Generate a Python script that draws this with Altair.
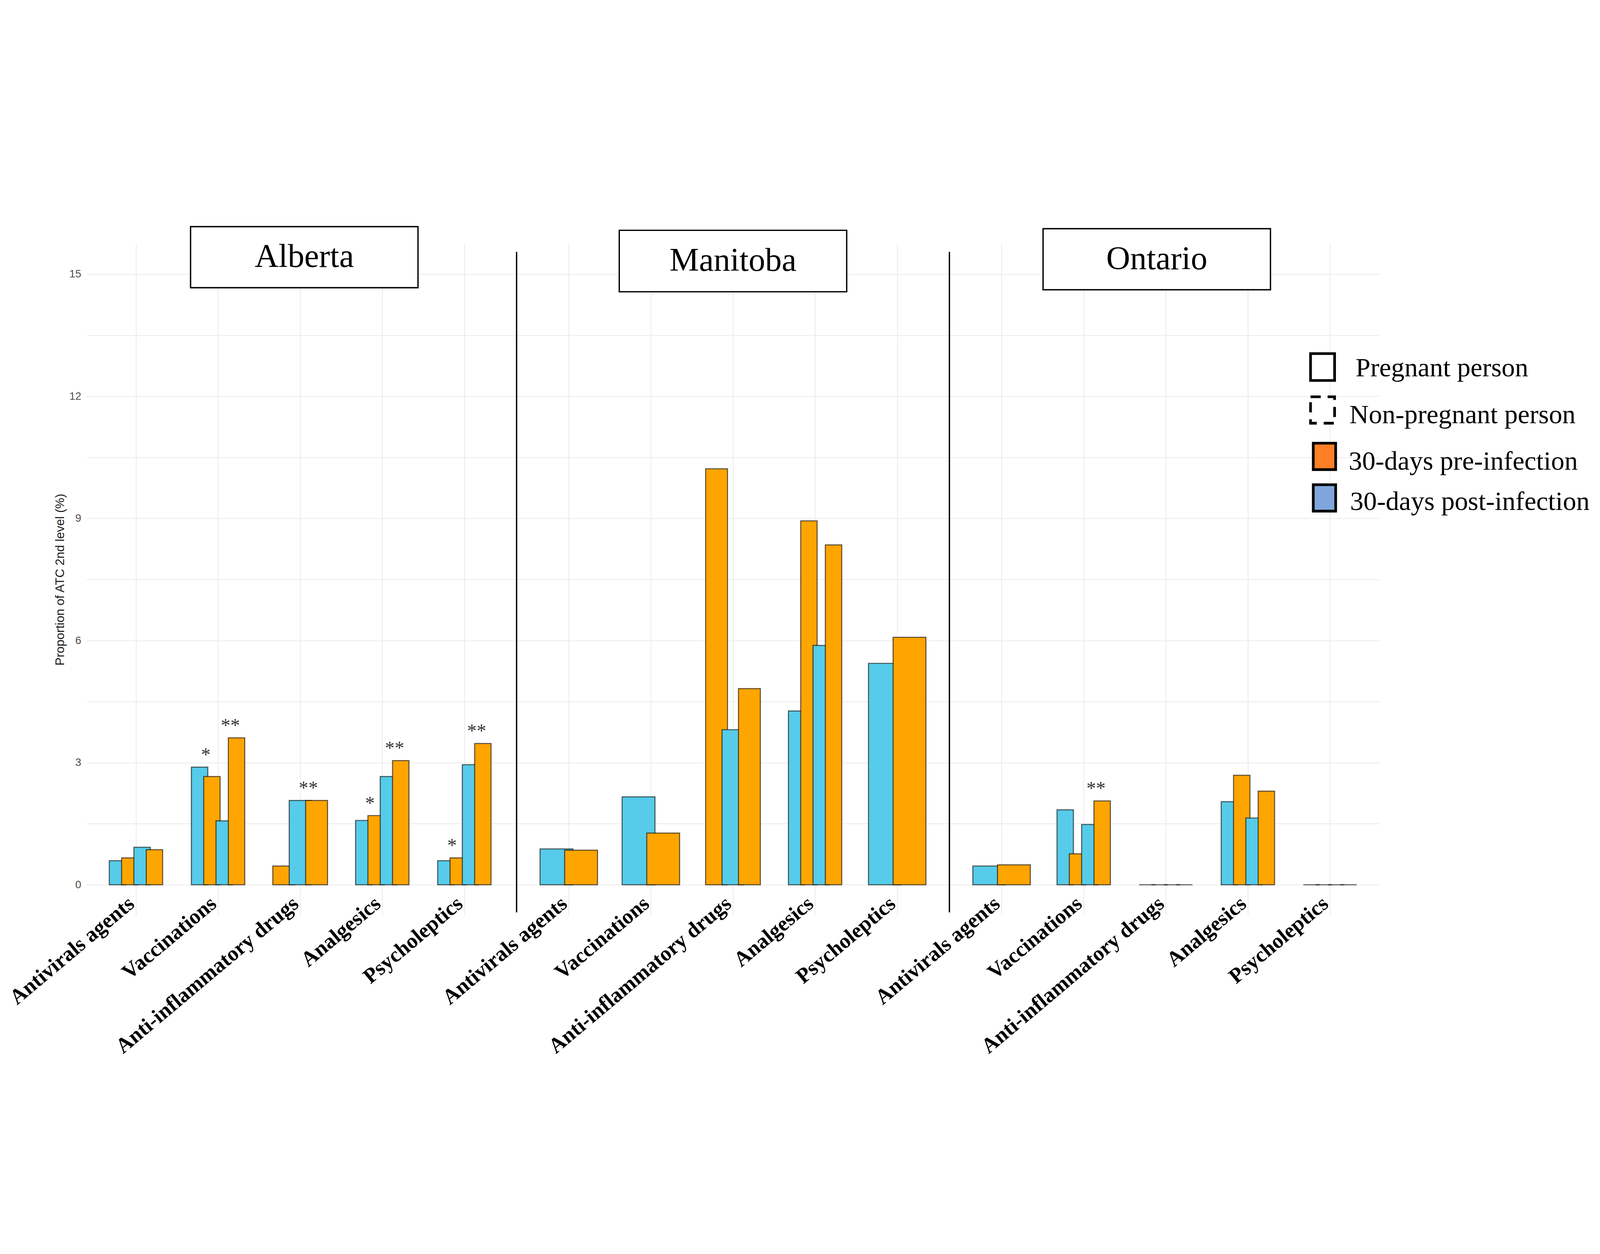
import altair as alt
import pandas as pd

# ---------------- data ----------------
provinces = ["Alberta", "Manitoba", "Ontario"]
categories = ["Antivirals agents", "Vaccinations", "Anti-inflammatory drugs",
              "Analgesics", "Psycholeptics"]

# proportion (%) per category; None = no bar
alberta_preg_post = [0.59, 2.89, None, 1.58, 0.59]
alberta_preg_pre = [0.66, 2.66, 0.46, 1.70, 0.66]
alberta_non_post = [0.92, 1.57, 2.07, 2.66, 2.95]
alberta_non_pre = [0.86, 3.61, 2.07, 3.05, 3.47]

manitoba_preg_post = [None, None, None, 4.27, None]
manitoba_preg_pre = [None, None, 10.22, 8.94, None]
manitoba_non_post = [0.88, 2.16, 3.81, 5.88, 5.44]
manitoba_non_pre = [0.85, 1.27, 4.82, 8.35, 6.08]

ontario_preg_post = [None, 1.84, 0.0, 2.04, 0.0]
ontario_preg_pre = [None, 0.76, 0.0, 2.69, 0.0]
ontario_non_post = [0.46, 1.48, 0.0, 1.64, 0.0]
ontario_non_pre = [0.49, 2.06, 0.0, 2.30, 0.0]

# significance markers (pregnant pair / non-pregnant pair)
alberta_sig_preg = ["", "*", "", "*", "*"]
alberta_sig_non = ["", "**", "**", "**", "**"]
manitoba_sig_preg = ["", "", "", "", ""]
manitoba_sig_non = ["", "", "", "", ""]
ontario_sig_preg = ["", "", "", "", ""]
ontario_sig_non = ["", "**", "", "", ""]

series_group = ["Pregnant", "Pregnant", "Non-pregnant", "Non-pregnant"]
series_time = ["post", "pre", "post", "pre"]

values = {
    "Alberta": [alberta_preg_post, alberta_preg_pre, alberta_non_post, alberta_non_pre],
    "Manitoba": [manitoba_preg_post, manitoba_preg_pre, manitoba_non_post, manitoba_non_pre],
    "Ontario": [ontario_preg_post, ontario_preg_pre, ontario_non_post, ontario_non_pre],
}
sigs = {
    "Alberta": {"Pregnant": alberta_sig_preg, "Non-pregnant": alberta_sig_non},
    "Manitoba": {"Pregnant": manitoba_sig_preg, "Non-pregnant": manitoba_sig_non},
    "Ontario": {"Pregnant": ontario_sig_preg, "Non-pregnant": ontario_sig_non},
}

rows = []
for pi, p in enumerate(provinces):
    for ci, c in enumerate(categories):
        for si in range(4):
            v = values[p][si][ci]
            if v is None:
                continue
            g = series_group[si]
            rows.append(dict(province=p, pidx=pi, category=c, cat=ci, order=si, group=g,
                             time=series_time[si], value=v, sig=sigs[p][g][ci]))
df = pd.DataFrame(rows)

legend_labels = ["Pregnant person", "Non-pregnant person",
                 "30-days pre-infection", "30-days post-infection"]

# ---------------- styles / layout ----------------
CYAN = "#56CCEA"
ORANGE = "#FFA500"
LEG_ORANGE = "#FF7F27"
LEG_BLUE = "#7FA6DC"
GRID = "#EBEBEB"
STEP = 5.2715            # one panel (5.2 bands) + the gap between panels
W, H = 4841, 2514
X_DOM = [-0.6, 2 * STEP + 4.6]
Y_DOM = [-0.75, 15.75]
YTITLE = "Proportion of ATC 2nd level (%)"
grid_vals = [i * 1.5 for i in range(11)]
tick_vals = [pi * STEP + ci for pi in range(3) for ci in range(5)]
label_expr = ("[" + ",".join("'%s'" % c for c in categories) + "]"
              "[round(datum.value - %s * floor((datum.value + 0.6) / %s))]" % (STEP, STEP))

xs = alt.Scale(domain=X_DOM, nice=False, zero=False)
ys = alt.Scale(domain=Y_DOM, nice=False, zero=False)

xaxis = alt.Axis(values=tick_vals, labelExpr=label_expr, title=None,
                 grid=True, gridColor=GRID, gridWidth=3, ticks=False, domain=False,
                 labelAngle=-40, labelAlign="right", labelBaseline="top",
                 labelFont="Liberation Serif", labelFontWeight="bold",
                 labelFontSize=80, labelColor="black", labelPadding=-84,
                 labelOffset=-42, labelOverlap=False, labelFlush=False,
                 labelBound=False, labelLimit=3000)
yaxis = alt.Axis(values=grid_vals,
                 labelExpr="datum.value % 3 == 0 ? format(datum.value, 'd') : ''",
                 title=YTITLE, titleFont="Liberation Sans", titleFontSize=46,
                 titleFontWeight="normal", titleColor="#1A1A1A", titlePadding=10,
                 labelFont="Liberation Sans", labelFontSize=40, labelColor="#4D4D4D",
                 labelPadding=21, ticks=False, domain=False, grid=True,
                 gridColor=GRID, gridWidth=3)

pos_expr = ("datum.pidx * %s + datum.cat + (datum.r - (datum.n + 1) / 2) * 0.6 / datum.n"
            % STEP)
base = (alt.Chart(df)
        .transform_joinaggregate(n="count()", groupby=["pidx", "cat"])
        .transform_window(r="row_number()", groupby=["pidx", "cat"],
                          sort=[alt.SortField("order")])
        .transform_calculate(pos=pos_expr)
        .transform_calculate(x0="datum.pos - 0.4 / datum.n",
                             x1="datum.pos + 0.4 / datum.n"))

bars = base.mark_rect(stroke="black", strokeWidth=4, strokeOpacity=0.6).encode(
    x=alt.X("x0:Q", scale=xs, axis=xaxis),
    x2="x1:Q",
    y=alt.Y("value:Q", scale=ys, axis=yaxis),
    y2=alt.Y2(datum=0),
    color=alt.Color("time:N", scale=alt.Scale(domain=["post", "pre"],
                                              range=[CYAN, ORANGE]), legend=None),
    strokeDash=alt.StrokeDash("group:N",
                              scale=alt.Scale(domain=["Pregnant", "Non-pregnant"],
                                              range=[[1, 0], [8, 8]]),
                              legend=None),
)

stars = (base.transform_filter(alt.datum.sig != "")
         .transform_aggregate(xm="mean(pos)", ym="max(value)",
                              groupby=["pidx", "cat", "group", "sig"])
         .mark_text(font="Liberation Serif", fontSize=72, baseline="alphabetic",
                    dy=-24, color="#333333")
         .encode(x=alt.X("xm:Q", scale=xs, title=None),
                 y=alt.Y("ym:Q", scale=ys, title=YTITLE),
                 text="sig:N"))

layers = [bars, stars]

# panel title boxes (centre x, bottom y, top y in data units)
box_layout = [(2.05, 14.67, 16.17), (2.0, 14.57, 16.08), (1.89, 14.62, 16.12)]
BOX_HALF = 1.385
for pi, p in enumerate(provinces):
    cx, by0, by1 = box_layout[pi]
    cx = cx + pi * STEP
    layers.append(alt.Chart().mark_rect(fill="white", stroke="black", strokeWidth=5).encode(
        x=alt.X(datum=cx - BOX_HALF, scale=xs, title=None),
        x2=alt.X2(datum=cx + BOX_HALF),
        y=alt.Y(datum=by0, scale=ys, title=YTITLE),
        y2=alt.Y2(datum=by1)))
    layers.append(alt.Chart().mark_text(text=p, font="Liberation Serif", fontSize=124,
                                        baseline="middle", align="center",
                                        color="black").encode(
        x=alt.X(datum=cx, scale=xs, title=None),
        y=alt.Y(datum=(by0 + by1) / 2, scale=ys, title=YTITLE)))

# vertical separators between the panels
for pi in range(2):
    layers.append(alt.Chart().mark_rule(color="black", strokeWidth=5).encode(
        x=alt.X(datum=pi * STEP + 4.636, scale=xs, title=None),
        y=alt.Y(datum=15.55, scale=ys, title=YTITLE),
        y2=alt.Y2(datum=-0.68)))

# hand-drawn style legend, as in the reference (inside the Ontario panel)
off = 2 * STEP
sym = [
    (3.763, 4.056, 12.39, 13.05, "white", [1, 0]),
    (3.763, 4.056, 11.34, 11.99, "white", [38, 26]),
    (3.796, 4.069, 10.20, 10.85, LEG_ORANGE, [1, 0]),
    (3.796, 4.069, 9.18, 9.83, LEG_BLUE, [1, 0]),
]
txt = [(4.311, 12.49), (4.237, 11.345), (4.228, 10.197), (4.245, 9.213)]
for (a, b, c, d, fill, dash), lab, (tx, ty) in zip(sym, legend_labels, txt):
    layers.append(alt.Chart().mark_rect(fill=fill, stroke="black", strokeWidth=10,
                                        strokeDash=dash).encode(
        x=alt.X(datum=a + off, scale=xs, title=None), x2=alt.X2(datum=b + off),
        y=alt.Y(datum=c, scale=ys, title=YTITLE), y2=alt.Y2(datum=d)))
    layers.append(alt.Chart().mark_text(text=lab, font="Liberation Serif",
                                        fontSize=100, align="left",
                                        baseline="alphabetic", color="black").encode(
        x=alt.X(datum=tx + off, scale=xs, title=None),
        y=alt.Y(datum=ty, scale=ys, title=YTITLE)))

chart = (alt.layer(*layers)
         .properties(width=W, height=H,
                     autosize=alt.AutoSizeParams(type="none"),
                     padding={"left": 313, "top": 164, "right": 815, "bottom": 505},
                     background="white")
         .configure_view(stroke=None))

chart.save("out.html", embed_options={"renderer": "svg", "actions": False})
